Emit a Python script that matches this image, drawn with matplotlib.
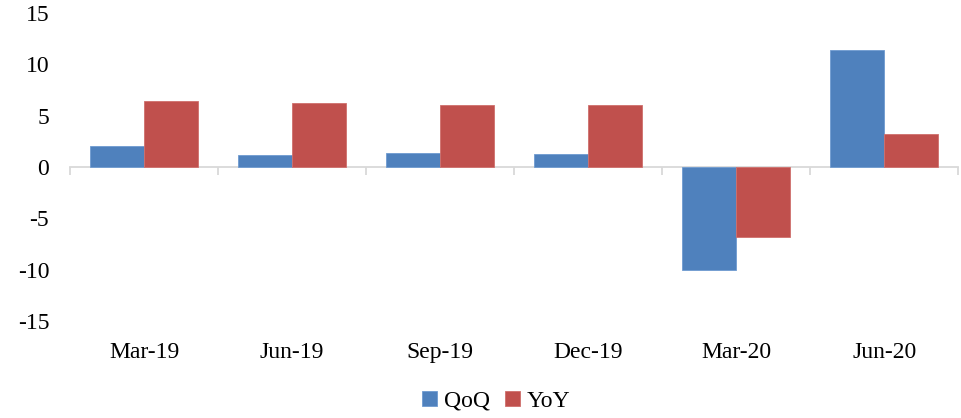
import matplotlib
matplotlib.use("Agg")
import matplotlib.pyplot as plt
import numpy as np

categories = ["Mar-19", "Jun-19", "Sep-19", "Dec-19", "Mar-20", "Jun-20"]
qoq = [2.0, 1.2, 1.4, 1.3, -10.0, 11.4]
yoy = [6.4, 6.2, 6.0, 6.0, -6.8, 3.2]
yticks = [-15, -10, -5, 0, 5, 10, 15]

plt.rcParams['font.family'] = ['Liberation Serif', 'DejaVu Serif']
FS = 17

fig = plt.figure(figsize=(9.62, 4.18), dpi=100)
ax = fig.add_axes([0.0728, 0.232, 0.9232, 0.737])

x = np.arange(len(categories))
w = 0.365
ax.bar(x - w/2, qoq, w, color='#4F81BD', label='QoQ', edgecolor='#6f9bd0', linewidth=0.6)
ax.bar(x + w/2, yoy, w, color='#C0504D', label='YoY', edgecolor='#cf6f6c', linewidth=0.6)

ax.set_xlim(-0.5, len(categories) - 0.5)
ax.set_ylim(-15, 15)
ax.set_yticks(yticks)
ax.set_yticklabels([str(v) for v in yticks], fontsize=FS)
ax.tick_params(axis='y', length=0, pad=15)

for s in ['top', 'left', 'right']:
    ax.spines[s].set_visible(False)
ax.spines['bottom'].set_position(('data', 0))
ax.spines['bottom'].set_color('#d9d9d9')
ax.spines['bottom'].set_linewidth(1.3)
ax.spines['bottom'].set_zorder(0.5)
ax.set_xticks(np.arange(-0.5, len(categories), 1.0))
ax.set_xticklabels([])
ax.tick_params(axis='x', direction='out', length=6, color='#d9d9d9', width=1.3)

sec = ax.secondary_xaxis('bottom')
sec.set_xticks(x)
sec.set_xticklabels(categories, fontsize=FS)
sec.tick_params(axis='x', length=0, pad=15)
for s in sec.spines.values():
    s.set_visible(False)

fig.legend(loc='center', bbox_to_anchor=(0.516, 0.04), ncol=2, frameon=False,
           fontsize=FS, handlelength=0.65, handleheight=0.65, handletextpad=0.3,
           columnspacing=0.6)

fig.savefig('out.png', dpi=100)
